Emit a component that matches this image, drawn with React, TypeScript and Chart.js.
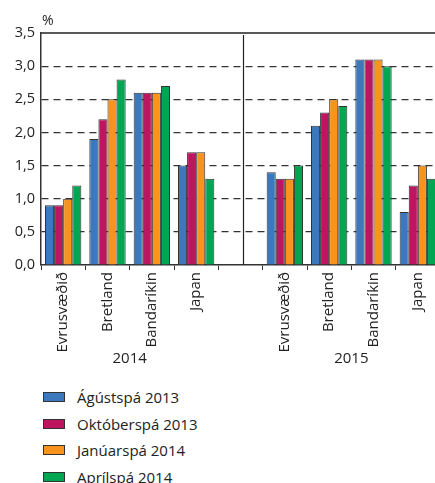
import React, { useEffect, useRef } from "react";
import { Chart, registerables } from "chart.js";

Chart.register(...registerables);

const categories = ["Evrusvæðið", "Bretland", "Bandaríkin", "Japan", "", "Evrusvæðið", "Bretland", "Bandaríkin", "Japan"];
const groupLabels = ["2014", "2015"];
const seriesNames = ["Ágústspá 2013", "Októberspá 2013", "Janúarspá 2014", "Aprílspá 2014"];
const seriesColors = ["#3b78bd", "#be1560", "#f7941d", "#00a651"];
const agust2013 = [0.9, 1.9, 2.6, 1.5, null, 1.4, 2.1, 3.1, 0.8];
const oktober2013 = [0.9, 2.2, 2.6, 1.7, null, 1.3, 2.3, 3.1, 1.2];
const januar2014 = [1.0, 2.5, 2.6, 1.7, null, 1.3, 2.5, 3.1, 1.5];
const april2014 = [1.2, 2.8, 2.7, 1.3, null, 1.5, 2.4, 3.0, 1.3];
const yTicks = [0, 0.5, 1, 1.5, 2, 2.5, 3, 3.5];

const FONT = "'Open Sans', sans-serif";
const TEXT = "#222";

const extras = {
  id: "extras",
  afterDraw(chart: any) {
    const { ctx, chartArea, scales } = chart;
    const x = scales.x;
    ctx.save();
    // top border
    ctx.strokeStyle = "#222";
    ctx.lineWidth = 1.5;
    ctx.beginPath();
    ctx.moveTo(chartArea.left, chartArea.top);
    ctx.lineTo(chartArea.right, chartArea.top);
    ctx.stroke();
    // separator between years
    const sep = x.getPixelForValue(4) + (x.getPixelForValue(5) - x.getPixelForValue(4)) * 0.06;
    ctx.lineWidth = 1.2;
    ctx.beginPath();
    ctx.moveTo(Math.round(sep) + 0.5, chartArea.top + 2);
    ctx.lineTo(Math.round(sep) + 0.5, chartArea.bottom);
    ctx.stroke();
    // percent sign
    ctx.fillStyle = TEXT;
    ctx.font = `14px ${FONT}`;
    ctx.textAlign = "left";
    ctx.textBaseline = "alphabetic";
    ctx.fillText("%", chartArea.left + 1, chartArea.top - 8);
    // year labels
    ctx.font = `15px ${FONT}`;
    ctx.textAlign = "center";
    ctx.textBaseline = "middle";
    const c1 = (x.getPixelForValue(1) + x.getPixelForValue(2)) / 2;
    const c2 = (x.getPixelForValue(6) + x.getPixelForValue(7)) / 2;
    ctx.fillText(groupLabels[0], c1, x.bottom - 13);
    ctx.fillText(groupLabels[1], c2, x.bottom - 13);
    ctx.restore();
  },
};

export default function App() {
  const ref = useRef<HTMLCanvasElement>(null);
  useEffect(() => {
    document.body.style.margin = "0";
    document.body.style.overflow = "hidden";
    const data = [agust2013, oktober2013, januar2014, april2014];
    const chart = new Chart(ref.current!, {
      type: "bar",
      data: {
        labels: categories,
        datasets: data.map((d, i) => ({
          label: seriesNames[i],
          data: d as any,
          backgroundColor: seriesColors[i],
          borderColor: "#333",
          borderWidth: 1,
          categoryPercentage: 0.82,
          barPercentage: 1,
        })),
      },
      options: {
        animation: false,
        responsive: false,
        layout: { padding: { top: 33, left: 0, right: 0, bottom: 0 } },
        plugins: { legend: { display: false }, tooltip: { enabled: false } },
        scales: {
          x: {
            grid: {
              drawOnChartArea: false,
              drawTicks: true,
              tickLength: 5,
              color: "#333",
              lineWidth: 1,
            },
            border: { color: "#333", width: 1.5 },
            ticks: {
              minRotation: 90,
              maxRotation: 90,
              padding: 2,
              color: TEXT,
              font: { family: FONT, size: 15 },
              autoSkip: false,
            },
            afterFit(scale: any) {
              scale.height = 107;
            },
          },
          y: {
            min: 0,
            max: 3.5,
            afterBuildTicks(scale: any) {
              scale.ticks = yTicks.map((v) => ({ value: v }));
            },
            grid: {
              drawTicks: false,
              color: (c: any) => (c.tick && (c.tick.value === 0 || c.tick.value === 3.5) ? "rgba(0,0,0,0)" : "#333"),
              lineWidth: 1.2,
            },
            border: { color: "#333", width: 1.5, dash: [7, 5] } as any,
            ticks: {
              padding: 6,
              color: TEXT,
              font: { family: FONT, size: 14.5 },
              callback: (v: any) => Number(v).toFixed(1).replace(".", ","),
            },
            afterFit(scale: any) {
              scale.width = 41;
            },
          },
        },
      },
      plugins: [extras],
    });
    return () => chart.destroy();
  }, []);

  return (
    <div style={{ width: 435, height: 483, overflow: "hidden", position: "relative", background: "#fff" }}>
      <canvas ref={ref} width={440} height={372} style={{ display: "block" }} />
      <div style={{ position: "absolute", left: 43, top: 384 }}>
        {seriesNames.map((n, i) => (
          <div key={n} style={{ display: "flex", alignItems: "center", height: 26.6 }}>
            <span
              style={{
                display: "inline-block",
                width: 20,
                height: 8,
                background: seriesColors[i],
                border: "1px solid #333",
                marginRight: 12,
              }}
            />
            <span style={{ fontFamily: FONT, fontSize: 15, color: TEXT }}>{n}</span>
          </div>
        ))}
      </div>
    </div>
  );
}
